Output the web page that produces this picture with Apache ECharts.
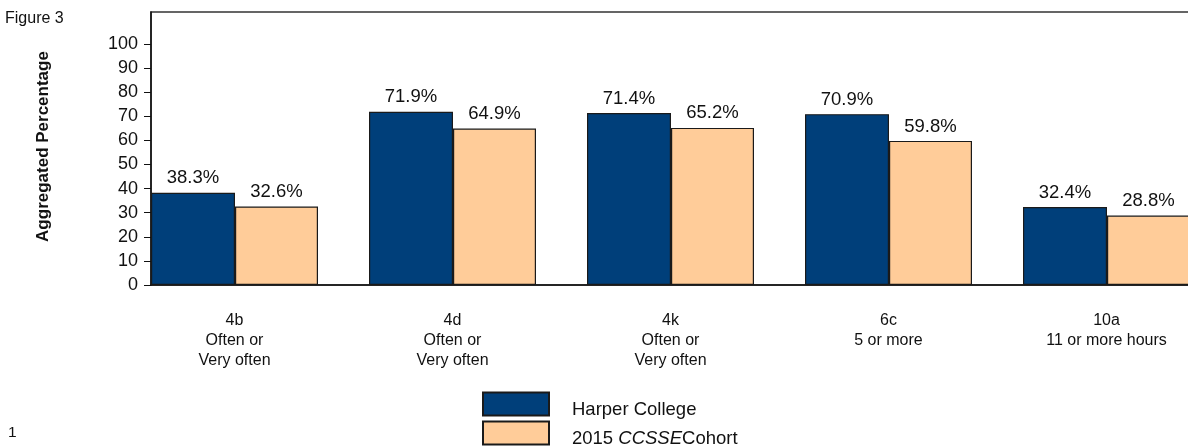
<!DOCTYPE html>
<html>
<head>
<meta charset="utf-8">
<script src="https://cdn.jsdelivr.net/npm/echarts@6/dist/echarts.min.js"></script>
<style>
  html, body { margin: 0; padding: 0; background: #fff; overflow: hidden; }
  /* the plot runs past the right edge of the page, so the canvas is wider than the view */
  #chart { width: 1260px; height: 447px; }
</style>
</head>
<body>
<div id="chart"></div>
<script>
// Item groups and their response thresholds
const categories = [
  '4b\nOften or\nVery often',
  '4d\nOften or\nVery often',
  '4k\nOften or\nVery often',
  '6c\n5 or more',
  '10a\n11 or more hours'
];
const harperValues = [38.3, 71.9, 71.4, 70.9, 32.4];
const cohortValues = [32.6, 64.9, 65.2, 59.8, 28.8];
const yTicks = [0, 10, 20, 30, 40, 50, 60, 70, 80, 90, 100];

const FONT = '"Liberation Sans", Arial, sans-serif';
const BORDER = '#1a1a1a';

const chart = echarts.init(document.getElementById('chart'), null, { renderer: 'canvas' });

const valueLabel = {
  show: true,
  position: 'top',
  distance: 5,
  fontFamily: FONT,
  fontSize: 18.5,
  color: '#111',
  formatter: p => p.value.toFixed(1) + '%'
};

chart.setOption({
  animation: false,
  backgroundColor: '#fff',
  title: [
    { text: 'Figure 3', left: 5, top: 11, padding: 0, textStyle: { fontFamily: FONT, fontSize: 16, fontWeight: 'normal', color: '#111' } },
    { text: '1', left: 8, top: 425, padding: 0, textStyle: { fontFamily: FONT, fontSize: 15.5, fontWeight: 'normal', color: '#111' } }
  ],
  grid: {
    left: 151,
    top: 12,
    bottom: 162,
    width: 1090,
    show: true,
    borderColor: '#333',
    borderWidth: 1.5,
    backgroundColor: 'transparent'
  },
  legend: {
    data: ['Harper College', '2015 CCSSE Cohort'],
    orient: 'vertical',
    left: 482,
    top: 387,
    width: 400,
    height: 120,
    itemWidth: 66,
    itemHeight: 23,
    itemGap: -5,
    padding: 0,
    icon: 'rect',
    textStyle: {
      fontFamily: FONT,
      fontSize: 18.5,
      lineHeight: 23,
      color: '#111',
      // text sits a little below the middle of its swatch
      padding: [11, 0, 0, 18],
      rich: {
        i: { fontFamily: FONT, fontSize: 18.5, lineHeight: 23, fontStyle: 'italic', color: '#111' }
      }
    },
    formatter: name => name === '2015 CCSSE Cohort' ? '2015 {i|CCSSE}Cohort' : name
  },
  xAxis: {
    type: 'category',
    data: categories,
    axisLine: { show: true, lineStyle: { color: '#111', width: 1.5 } },
    axisTick: { show: false },
    axisLabel: {
      fontFamily: FONT,
      fontSize: 16,
      lineHeight: 20,
      color: '#111',
      margin: 26,
      interval: 0,
      // centre each label under its pair of bars rather than the whole band
      padding: [0, 51, 0, 0]
    }
  },
  yAxis: {
    type: 'value',
    min: 0,
    max: 113.3,
    interval: 10,
    name: 'Aggregated Percentage',
    nameLocation: 'middle',
    nameRotate: 90,
    nameGap: 99,
    nameTextStyle: { fontFamily: FONT, fontSize: 17, fontWeight: 'bold', color: '#111', padding: [0, 0, 0, 4] },
    axisLine: { show: true, lineStyle: { color: '#111', width: 1.5 } },
    axisTick: { show: true, inside: false, length: 7, lineStyle: { color: '#111' }, customValues: yTicks },
    axisLabel: { fontFamily: FONT, fontSize: 18, color: '#111', margin: 13, customValues: yTicks },
    splitLine: { show: false }
  },
  series: [
    {
      name: 'Harper College',
      type: 'bar',
      data: harperValues,
      barWidth: 84,
      barGap: 0,
      itemStyle: { color: '#003f7a', borderColor: BORDER, borderWidth: 1.2 },
      label: valueLabel
    },
    {
      name: '2015 CCSSE Cohort',
      type: 'bar',
      data: cohortValues,
      barWidth: 83,
      barGap: 0,
      itemStyle: { color: '#ffcc99', borderColor: BORDER, borderWidth: 1.2 },
      label: valueLabel
    },
    {
      // empty slot that holds the space between groups
      name: 'gap',
      type: 'bar',
      data: categories.map(() => null),
      barWidth: 51,
      barGap: 0,
      silent: true,
      itemStyle: { color: 'transparent' }
    }
  ]
});
</script>
</body>
</html>
